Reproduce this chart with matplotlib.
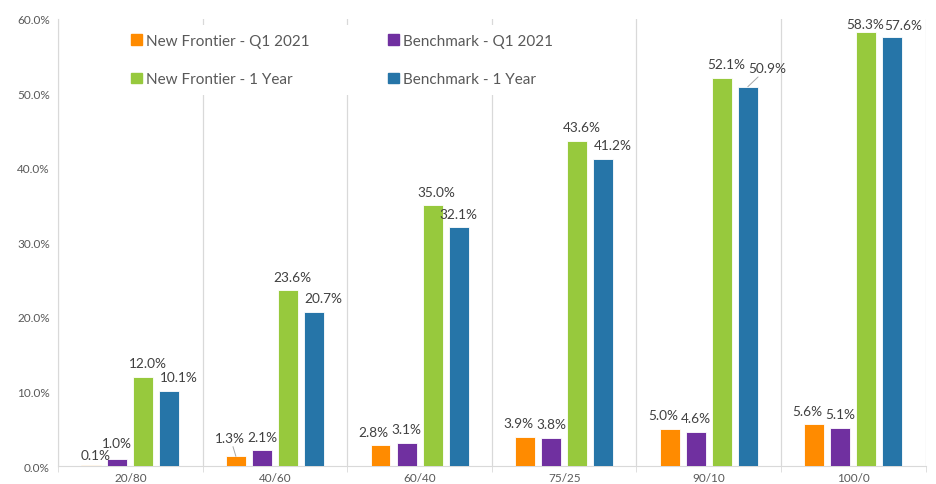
import numpy as np
import matplotlib
matplotlib.use("Agg")
import matplotlib.pyplot as plt
from matplotlib.patches import Patch
from matplotlib.ticker import FuncFormatter, FixedLocator

plt.rcParams['font.family'] = ['Lato', 'DejaVu Sans']

# data
categories = ['20/80', '40/60', '60/40', '75/25', '90/10', '100/0']
series_names = ['New Frontier - Q1 2021', 'Benchmark - Q1 2021',
                'New Frontier - 1 Year', 'Benchmark - 1 Year']
nf_q1 = [0.1, 1.3, 2.8, 3.9, 5.0, 5.6]
bm_q1 = [1.0, 2.1, 3.1, 3.8, 4.6, 5.1]
nf_1y = [12.0, 23.6, 35.0, 43.6, 52.1, 58.3]
bm_1y = [10.1, 20.7, 32.1, 41.2, 50.9, 57.6]

colors = ['#FF8B00', '#7030A0', '#97C93D', '#2675A8']
all_series = [nf_q1, bm_q1, nf_1y, bm_1y]

# default label shift per series (points), then per-label tweaks
series_dx = [-5, 0, 3, 7]
label_tweaks = {
    (0, 0): (3, 3, False),
    (0, 1): (0, 7, False),
    (1, 0): (-4, 9, True),
    (2, 3): (0, 5, False),
    (4, 3): (14, 9, True),
    (5, 2): (-1, 1, False),
    (5, 3): (8, 4, False),
}

fig = plt.figure(figsize=(9.36, 4.85), dpi=100)
ax = fig.add_axes([0.062, 0.037, 0.927, 0.922])

x = np.arange(len(categories))
width = 0.138
pitch = 0.18
offsets = (np.arange(4) - 1.5) * pitch

for j, (vals, c) in enumerate(zip(all_series, colors)):
    bars = ax.bar(x + offsets[j], vals, width, color=c, edgecolor='white',
                  linewidth=0.6, zorder=3)
    for i, (b, v) in enumerate(zip(bars, vals)):
        dx, dy, leader = label_tweaks.get((i, j), (series_dx[j], 5.5, False))
        bx = b.get_x() + b.get_width() / 2
        kw = {}
        if leader:
            kw['arrowprops'] = dict(arrowstyle='-', color='#A6A6A6', lw=0.7,
                                    shrinkA=0, shrinkB=0)
        ax.annotate(f'{v:.1f}%', xy=(bx, v), xytext=(dx, dy),
                    textcoords='offset points', ha='center', va='bottom',
                    fontsize=9.8, color='#404040', zorder=4, **kw)

ax.set_xlim(-0.5, len(categories) - 0.5)
ax.set_ylim(0, 60)
ax.set_yticks(np.arange(0, 61, 10))
ax.yaxis.set_major_formatter(FuncFormatter(lambda v, p: f'{v:.1f}%'))
ax.set_xticks(x)
ax.set_xticklabels(categories)
ax.xaxis.set_minor_locator(FixedLocator(np.arange(-0.5, len(categories), 1)))
ax.tick_params(axis='x', which='major', length=0, labelsize=8.5,
               colors='#595959', pad=4)
ax.tick_params(axis='x', which='minor', length=4, color='#D9D9D9')
ax.tick_params(axis='y', length=0, labelsize=8.5, colors='#595959', pad=6)

ax.grid(True, axis='x', which='minor', color='#D9D9D9', lw=0.9, zorder=0)
for s in ['top', 'right']:
    ax.spines[s].set_visible(False)
ax.spines['left'].set_color('#D9D9D9')
ax.spines['bottom'].set_color('#D9D9D9')

handles = [Patch(color=c) for c in colors]
order = [0, 2, 1, 3]
leg = fig.legend([handles[k] for k in order], [series_names[k] for k in order],
                 ncol=2, loc='upper left', bbox_to_anchor=(0.122, 0.963),
                 frameon=True, fontsize=11, handlelength=0.7,
                 handleheight=0.7, handletextpad=0.3, columnspacing=5.1,
                 labelspacing=1.6, borderpad=0.6)
leg.get_frame().set_facecolor('white')
leg.get_frame().set_edgecolor('none')
leg.get_frame().set_alpha(1)
for t in leg.get_texts():
    t.set_color('#595959')

fig.savefig('out.png', dpi=100)
